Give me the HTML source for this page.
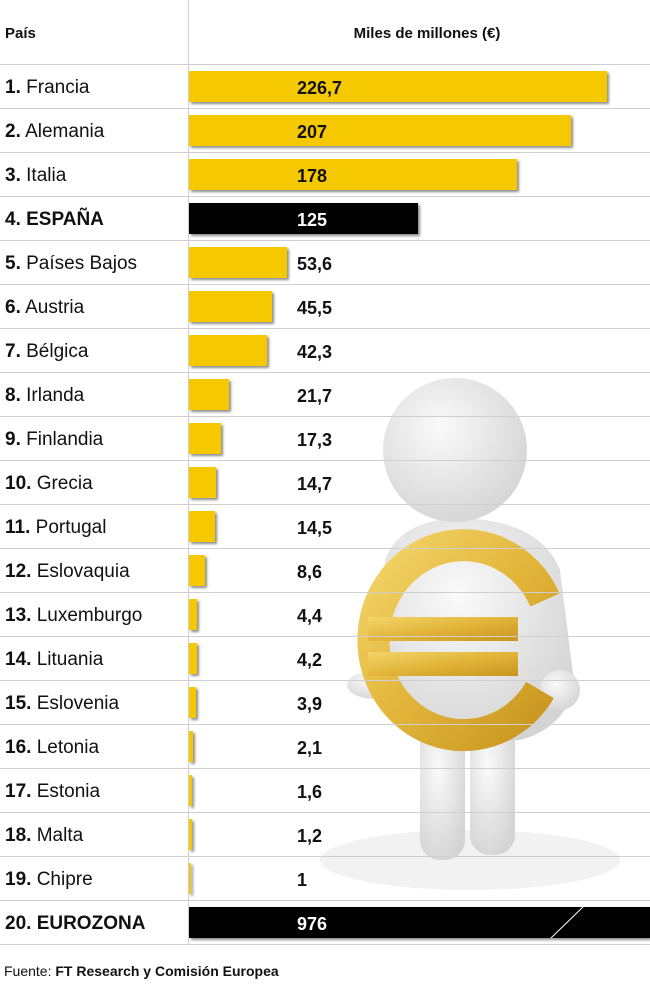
<!DOCTYPE html>
<html><head><meta charset="utf-8"><style>body{margin:0;background:#fff}svg{display:block}</style></head><body>
<svg width="650" height="1000" viewBox="0 0 650 1000" xmlns="http://www.w3.org/2000/svg" font-family="Liberation Sans, sans-serif">
<defs>
<radialGradient id="g" cx="0.4" cy="0.35" r="0.7"><stop offset="0" stop-color="#fafafa"/><stop offset="1" stop-color="#d4d4d4"/></radialGradient>
<linearGradient id="gold" x1="0" y1="0" x2="1" y2="1"><stop offset="0" stop-color="#f3d56a"/><stop offset="0.5" stop-color="#e2b53a"/><stop offset="1" stop-color="#c8951f"/></linearGradient>
<filter id="sh"><feDropShadow dx="2" dy="2" stdDeviation="1.2" flood-opacity="0.45"/></filter>
</defs>
<!-- figure -->
<g>
<ellipse cx="470" cy="860" rx="150" ry="30" fill="#f2f2f2"/>
<rect x="420" y="720" width="45" height="140" rx="20" fill="url(#g)"/>
<rect x="470" y="720" width="45" height="135" rx="20" fill="url(#g)"/>
<path d="M385 560 Q400 520 460 518 Q540 520 560 570 L575 690 Q560 730 520 740 L420 740 Q385 720 380 680 Z" fill="url(#g)"/>
<ellipse cx="455" cy="450" rx="72" ry="72" fill="url(#g)"/>
<ellipse cx="375" cy="685" rx="28" ry="14" fill="url(#g)"/>
<ellipse cx="560" cy="690" rx="20" ry="20" fill="url(#g)"/>
<path d="M545 600 A90 95 0 1 0 540 690" fill="none" stroke="url(#gold)" stroke-width="32"/>
<rect x="368" y="617" width="150" height="24" fill="url(#gold)"/>
<rect x="368" y="652" width="150" height="24" fill="url(#gold)"/>
</g>
<!-- grid -->
<g stroke="#cfcfcf" stroke-width="1">
<line x1="188.5" y1="0" x2="188.5" y2="944"/>
<line x1="0" y1="64.5" x2="650" y2="64.5"/>
<line x1="0" y1="108.5" x2="650" y2="108.5"/><line x1="0" y1="152.5" x2="650" y2="152.5"/><line x1="0" y1="196.5" x2="650" y2="196.5"/><line x1="0" y1="240.5" x2="650" y2="240.5"/><line x1="0" y1="284.5" x2="650" y2="284.5"/><line x1="0" y1="328.5" x2="650" y2="328.5"/><line x1="0" y1="372.5" x2="650" y2="372.5"/><line x1="0" y1="416.5" x2="650" y2="416.5"/><line x1="0" y1="460.5" x2="650" y2="460.5"/><line x1="0" y1="504.5" x2="650" y2="504.5"/><line x1="0" y1="548.5" x2="650" y2="548.5"/><line x1="0" y1="592.5" x2="650" y2="592.5"/><line x1="0" y1="636.5" x2="650" y2="636.5"/><line x1="0" y1="680.5" x2="650" y2="680.5"/><line x1="0" y1="724.5" x2="650" y2="724.5"/><line x1="0" y1="768.5" x2="650" y2="768.5"/><line x1="0" y1="812.5" x2="650" y2="812.5"/><line x1="0" y1="856.5" x2="650" y2="856.5"/><line x1="0" y1="900.5" x2="650" y2="900.5"/><line x1="0" y1="944.5" x2="650" y2="944.5"/>
</g>
<text x="5" y="38" font-size="15" font-weight="bold" fill="#111">País</text>
<text x="427" y="38" font-size="15" font-weight="bold" fill="#111" text-anchor="middle">Miles de millones (€)</text>
<!-- bars -->
<g fill="#f5c800" filter="url(#sh)">
<rect x="189" y="71" width="418" height="31"/>
<rect x="189" y="115" width="382" height="31"/>
<rect x="189" y="159" width="328" height="31"/>
<rect x="189" y="203" width="229" height="31" fill="#000"/>
<rect x="189" y="247" width="98" height="31"/>
<rect x="189" y="291" width="83" height="31"/>
<rect x="189" y="335" width="78" height="31"/>
<rect x="189" y="379" width="40" height="31"/>
<rect x="189" y="423" width="32" height="31"/>
<rect x="189" y="467" width="27" height="31"/>
<rect x="189" y="511" width="26" height="31"/>
<rect x="189" y="555" width="16" height="31"/>
<rect x="189" y="599" width="8" height="31"/>
<rect x="189" y="643" width="8" height="31"/>
<rect x="189" y="687" width="7" height="31"/>
<rect x="189" y="731" width="4" height="31"/>
<rect x="189" y="775" width="3" height="31"/>
<rect x="189" y="819" width="3" height="31"/>
<rect x="189" y="863" width="2" height="31"/>
<rect x="189" y="907" width="461" height="31" fill="#000"/>
</g>
<line x1="551" y1="938" x2="585" y2="905" stroke="#fff" stroke-width="1"/>
<g font-size="19" fill="#111">
<text x="5" y="93"><tspan font-weight="bold">1.</tspan> Francia</text>
<text x="5" y="137"><tspan font-weight="bold">2.</tspan> Alemania</text>
<text x="5" y="181"><tspan font-weight="bold">3.</tspan> Italia</text>
<text x="5" y="225" font-weight="bold">4. ESPAÑA</text>
<text x="5" y="269"><tspan font-weight="bold">5.</tspan> Países Bajos</text>
<text x="5" y="313"><tspan font-weight="bold">6.</tspan> Austria</text>
<text x="5" y="357"><tspan font-weight="bold">7.</tspan> Bélgica</text>
<text x="5" y="401"><tspan font-weight="bold">8.</tspan> Irlanda</text>
<text x="5" y="445"><tspan font-weight="bold">9.</tspan> Finlandia</text>
<text x="5" y="489"><tspan font-weight="bold">10.</tspan> Grecia</text>
<text x="5" y="533"><tspan font-weight="bold">11.</tspan> Portugal</text>
<text x="5" y="577"><tspan font-weight="bold">12.</tspan> Eslovaquia</text>
<text x="5" y="621"><tspan font-weight="bold">13.</tspan> Luxemburgo</text>
<text x="5" y="665"><tspan font-weight="bold">14.</tspan> Lituania</text>
<text x="5" y="709"><tspan font-weight="bold">15.</tspan> Eslovenia</text>
<text x="5" y="753"><tspan font-weight="bold">16.</tspan> Letonia</text>
<text x="5" y="797"><tspan font-weight="bold">17.</tspan> Estonia</text>
<text x="5" y="841"><tspan font-weight="bold">18.</tspan> Malta</text>
<text x="5" y="885"><tspan font-weight="bold">19.</tspan> Chipre</text>
<text x="5" y="929" font-weight="bold">20. EUROZONA</text>
</g>
<g font-size="18" font-weight="bold" fill="#111">
<text x="297" y="94">226,7</text><text x="297" y="138">207</text><text x="297" y="182">178</text>
<text x="297" y="226" fill="#fff">125</text><text x="297" y="270">53,6</text><text x="297" y="314">45,5</text>
<text x="297" y="358">42,3</text><text x="297" y="402">21,7</text><text x="297" y="446">17,3</text>
<text x="297" y="490">14,7</text><text x="297" y="534">14,5</text><text x="297" y="578">8,6</text>
<text x="297" y="622">4,4</text><text x="297" y="666">4,2</text><text x="297" y="710">3,9</text>
<text x="297" y="754">2,1</text><text x="297" y="798">1,6</text><text x="297" y="842">1,2</text>
<text x="297" y="886">1</text><text x="297" y="930" fill="#fff">976</text>
</g>
<text x="4" y="976" font-size="14" fill="#111">Fuente: <tspan font-weight="bold">FT Research y Comisión Europea</tspan></text>
</svg>
</body></html>
